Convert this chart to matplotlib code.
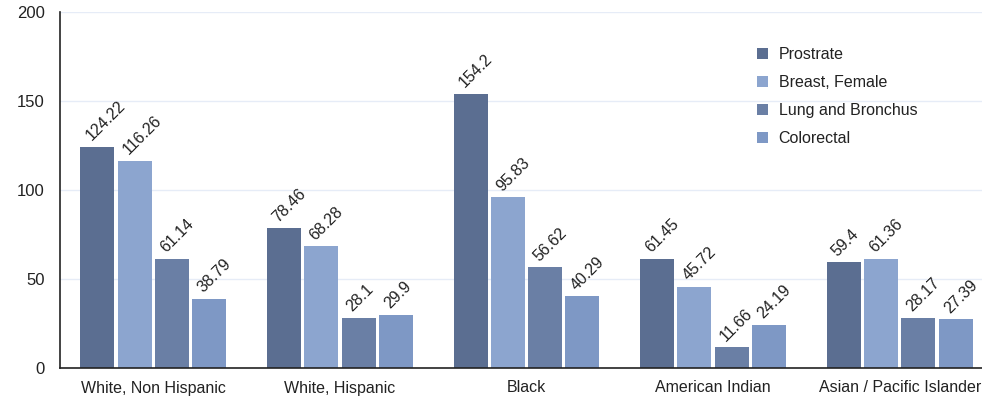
import numpy as np
import matplotlib
matplotlib.use('Agg')
import matplotlib.pyplot as plt

# data
groups = ['White, Non Hispanic', 'White, Hispanic', 'Black', 'American Indian', 'Asian / Pacific Islander']
series = ['Prostrate', 'Breast, Female', 'Lung and Bronchus', 'Colorectal']
prostrate = [124.22, 78.46, 154.2, 61.45, 59.4]
breast = [116.26, 68.28, 95.83, 45.72, 61.36]
lung = [61.14, 28.1, 56.62, 11.66, 28.17]
colorectal = [38.79, 29.9, 40.29, 24.19, 27.39]
yticks = [0, 50, 100, 150, 200]

values = [prostrate, breast, lung, colorectal]
colors = ['#5b6e91', '#8ca5cf', '#6a7fa5', '#7e98c5']

plt.rcParams['font.family'] = ['Liberation Sans', 'DejaVu Sans']

fig = plt.figure(figsize=(9.82, 4.0), dpi=100)
ax = fig.add_axes([60 / 982, 32 / 400, 933 / 982, 356 / 400])

x = np.arange(len(groups))
slot = 0.2
width = 0.182
for i, (name, vals, col) in enumerate(zip(series, values, colors)):
    pos = x + (i - 1.5) * slot
    ax.bar(pos, vals, width=width, color=col, label=name, zorder=2)
    for px, v in zip(pos, vals):
        ax.text(px - 0.02, v + 2.0, f'{v:g}', rotation=45, rotation_mode='anchor',
                ha='left', va='bottom', fontsize=11.5, color='#222222')

ax.set_xlim(-0.5, len(groups) - 0.5)
ax.set_ylim(0, 200)
ax.set_yticks(yticks)
ax.set_xticks(x)
ax.set_xticklabels(groups, fontsize=11.5, color='#222222')
ax.tick_params(axis='y', length=0, pad=11, labelsize=12, labelcolor='#222222')
ax.tick_params(axis='x', length=0, pad=9)
ax.grid(axis='y', color='#e6ecf7', linewidth=1, zorder=0)

for s in ['top', 'right']:
    ax.spines[s].set_visible(False)
ax.spines['left'].set_color('#222222')
ax.spines['bottom'].set_color('#222222')
ax.spines['left'].set_linewidth(1.2)
ax.spines['bottom'].set_linewidth(1.2)

ax.legend(loc='upper left', bbox_to_anchor=(749 / 982, 1 - 39 / 400),
          bbox_transform=fig.transFigure, frameon=False, fontsize=11.5,
          handlelength=0.7, handleheight=0.7, handletextpad=0.65,
          labelspacing=0.82, borderpad=0, labelcolor='#222222')

fig.savefig('out.png', dpi=100)
